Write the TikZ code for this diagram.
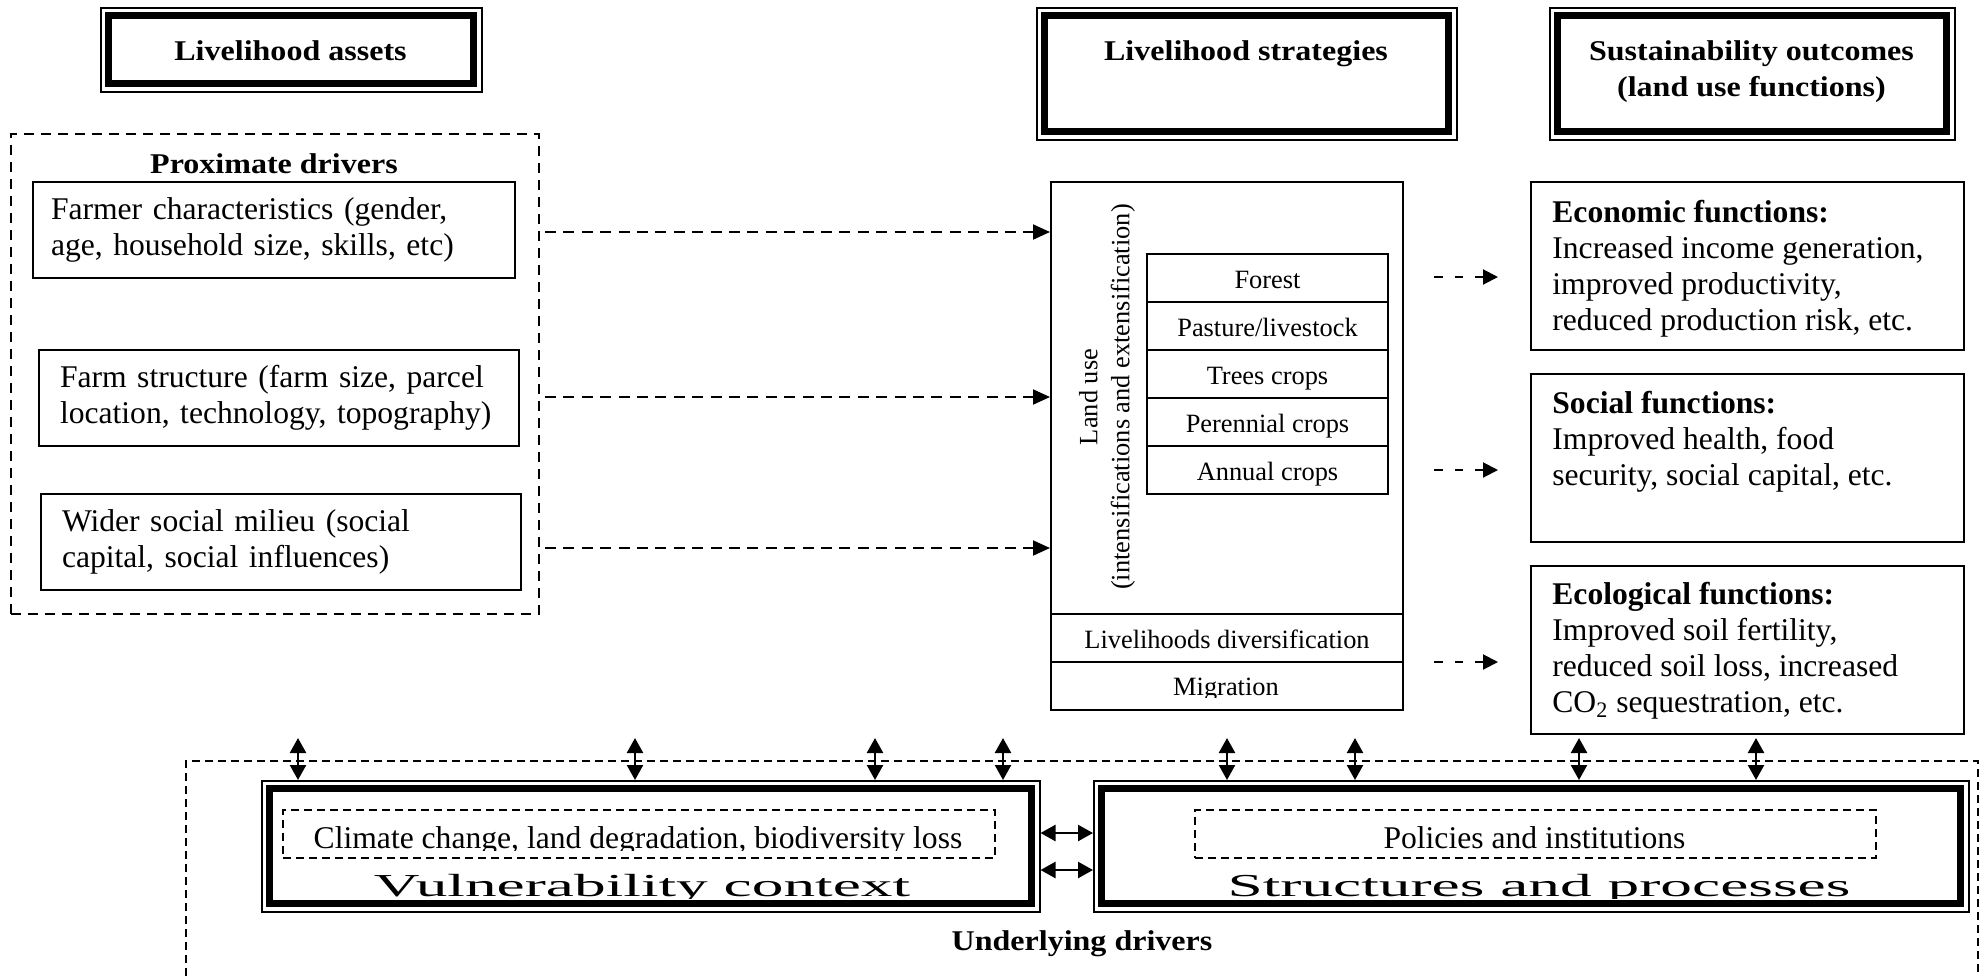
\documentclass[tikz,border=0pt]{standalone}
\usepackage{graphicx}
\usepackage{fontspec}
\setmainfont{Liberation Serif}
\usetikzlibrary{arrows.meta,calc}
\newcommand{\bodyfnt}{\fontsize{15.8}{18}\selectfont}
\newcommand{\smallfnt}{\fontsize{13.2}{16}\selectfont}
\newcommand{\hdrfnt}{\fontsize{14.3}{18}\selectfont\bfseries}
\newcommand{\widefnt}{\fontsize{16}{19}\selectfont}
\newcommand{\hs}[1]{\scalebox{1.12}[1]{#1}}
\newcommand{\ws}[1]{\scalebox{1.98}[1]{#1}}
\begin{document}
\begin{tikzpicture}[x=0.5pt,y=-0.5pt,
  hdrbox/.style={draw, line width=0.75pt, anchor=north west, inner sep=0pt,
    path picture={\draw[line width=3.5pt]
      ([xshift=4pt,yshift=-4pt]path picture bounding box.north west) rectangle
      ([xshift=-4pt,yshift=4pt]path picture bounding box.south east);}},
  hdrtxt/.style={font=\hdrfnt, inner sep=0pt},
  proxbox/.style={draw, line width=0.9pt, dash pattern=on 5pt off 3.5pt, anchor=north west, inner sep=0pt},
  lbox/.style={draw, line width=1pt, anchor=north west, inner ysep=0pt, minimum height=48pt, align=left, font=\bodyfnt},
  plainbox/.style={draw, line width=1pt, anchor=north west, inner sep=0pt},
  rowbox/.style={draw, line width=1pt, anchor=north west, inner sep=0pt, minimum width=120.5pt, minimum height=24pt, text height=10pt, text depth=0pt, font=\smallfnt},
  rbox/.style={draw, line width=1pt, anchor=north west, inner sep=0pt, minimum width=216.5pt, minimum height=84pt},
  rtxt/.style={anchor=north west, inner sep=0pt, align=left, font=\bodyfnt},
  idash/.style={draw, line width=0.9pt, dash pattern=on 4pt off 2.5pt, anchor=north west, inner sep=0pt},
  udash/.style={line width=0.85pt, dash pattern=on 4pt off 2.5pt},
  dasharr/.style={line width=1pt, dash pattern=on 5.5pt off 3.7pt, -{Triangle[length=8.5pt,width=7.5pt]}},
  dasharrb/.style={line width=1pt, dash pattern=on 4.25pt off 6pt, -{Triangle[length=7.5pt,width=7.5pt]}},
  biarr/.style={line width=1.2pt, {Triangle[length=7.5pt,width=8pt]}-{Triangle[length=7.5pt,width=8pt]}}
]
\useasboundingbox[fill=white] (0,0) rectangle (1982,976);

% header boxes
\node[hdrbox, minimum width=190.5pt, minimum height=42pt] (assets) at (100,7) {};
\node[hdrtxt, anchor=base] (assetsT) at (290.5,60) {\hs{Livelihood assets}};
\node[hdrbox, minimum width=210pt, minimum height=66pt] (strat) at (1036,7) {};
\node[hdrtxt, anchor=base] (stratT) at (1246,60) {\hs{Livelihood strategies}};
\node[hdrbox, minimum width=202.5pt, minimum height=66pt] (sust) at (1549,7) {};
\node[hdrtxt, anchor=north, align=center] (sustT) at (1751.5,34.8) {\strut\hs{Sustainability outcomes}\\\hs{(land use functions)}};

% proximate drivers
\node[proxbox, minimum width=264pt, minimum height=240pt] (prox) at (10,133) {};
\node[hdrtxt, anchor=base] (proxT) at (274,173) {\hs{Proximate drivers}};
\node[lbox, minimum width=241pt, inner xsep=9pt, text width=223pt] (farmer) at (32,181)
  {Farmer characteristics (gender,\\age, household size, skills, etc)};
\node[lbox, minimum width=240pt, inner xsep=10.5pt, text width=219pt] (farm) at (38,349)
  {Farm structure (farm size, parcel\\location, technology, topography)};
\node[lbox, minimum width=240pt, inner xsep=10.5pt, text width=219pt] (wider) at (40,493)
  {Wider social milieu (social\\capital, social influences)};

% land use
\node[plainbox, minimum width=176pt, minimum height=264pt] (land) at (1050,181) {};
\node[rotate=90, anchor=north, inner sep=0pt, align=center, font=\smallfnt] (landT) at (1074.6,397)
  {\strut Land use\\(intensifications and extensification)};
\foreach \t [count=\i from 0] in {Forest, Pasture/livestock, Trees crops, Perennial crops, Annual crops}
  \node[rowbox] (row\i) at (1146,253+48*\i) {\t};
\node[plainbox, minimum width=176pt, minimum height=24pt, text height=10pt, text depth=0pt, font=\smallfnt] (divrow) at (1050,613) {Livelihoods diversification};
\node[plainbox, minimum width=176pt, minimum height=24pt] (migrow) at (1050,661) {};
\begin{scope}
  \clip (1050,661) rectangle (1402,697);
  \node[font=\smallfnt, anchor=base, inner sep=0pt] (migT) at (1226,695) {Migration};
\end{scope}

% outcome boxes
\node[rbox] (econ) at (1530,181) {};
\node[rtxt] (econT) at (1552,196.8) {\strut\textbf{Economic functions:}\\Increased income generation,\\improved productivity,\\reduced production risk, etc.};
\node[rbox] (social) at (1530,373) {};
\node[rtxt] (socialT) at (1552,387.8) {\strut\textbf{Social functions:}\\Improved health, food\\security, social capital, etc.};
\node[rbox] (eco) at (1530,565) {};
\node[rtxt] (ecoT) at (1552,578.8) {\strut\textbf{Ecological functions:}\\Improved soil fertility,\\reduced soil loss, increased\\CO\textsubscript{2} sequestration, etc.};

% underlying drivers
\draw[udash] (186,976) -- (186,761) -- (1978,761) -- (1978,976);
\node[hdrtxt, anchor=base] (undT) at (1082,950) {\hs{Underlying drivers}};
\node[hdrbox, minimum width=389pt, minimum height=65.5pt] (vul) at (261,780) {};
\node[hdrbox, minimum width=437.5pt, minimum height=65.5pt] (str) at (1093,780) {};
\node[idash, minimum width=356pt, minimum height=24pt] (climB) at (282,809) {};
\node[idash, minimum width=340.5pt, minimum height=24pt] (polB) at (1194,809) {};
\begin{scope}
  \clip (0,700) rectangle (1982,850);
  \node[font=\bodyfnt, anchor=base, inner sep=0pt] (climT) at (638,848) {Climate change, land degradation, biodiversity loss};
  \node[font=\bodyfnt, anchor=base, inner sep=0pt] (polT) at (1534.5,848) {Policies and institutions};
\end{scope}
\begin{scope}
  \clip (0,860) rectangle (1982,898);
  \node[font=\widefnt, anchor=base, inner sep=0pt] (vulT) at (642,896) {\ws{Vulnerability context}};
  \node[font=\widefnt, anchor=base, inner sep=0pt] (strT) at (1539,896) {\ws{Structures and processes}};
\end{scope}

% left dashed arrows
\coordinate (l1) at (545,232);
\coordinate (l2) at (545,397);
\coordinate (l3) at (545,548);
\draw[dasharr] (l1) -- (l1 -| land.west);
\draw[dasharr] (l2) -- (l2 -| land.west);
\draw[dasharr] (l3) -- (l3 -| land.west);

% right dashed arrows
\coordinate (r1s) at (1434,277); \coordinate (r1e) at (1498,277);
\coordinate (r2s) at (1434,470); \coordinate (r2e) at (1498,470);
\coordinate (r3s) at (1434,662); \coordinate (r3e) at (1498,662);
\draw[dasharrb] (r1s) -- (r1e);
\draw[dasharrb] (r2s) -- (r2e);
\draw[dasharrb] (r3s) -- (r3e);

% vertical double arrows
\foreach \x [count=\i] in {298,635,875,1003} {
  \coordinate (va\i) at (\x,738);
  \draw[biarr] (va\i) -- (va\i |- vul.north);
}
\foreach \x [count=\i] in {1227,1355,1579,1756} {
  \coordinate (vb\i) at (\x,738);
  \draw[biarr] (vb\i) -- (vb\i |- str.north);
}

% horizontal double arrows
\coordinate (h1) at (1066,833);
\coordinate (h2) at (1066,870);
\draw[biarr] (h1 -| vul.east) -- (h1 -| str.west);
\draw[biarr] (h2 -| vul.east) -- (h2 -| str.west);
\end{tikzpicture}
\end{document}
